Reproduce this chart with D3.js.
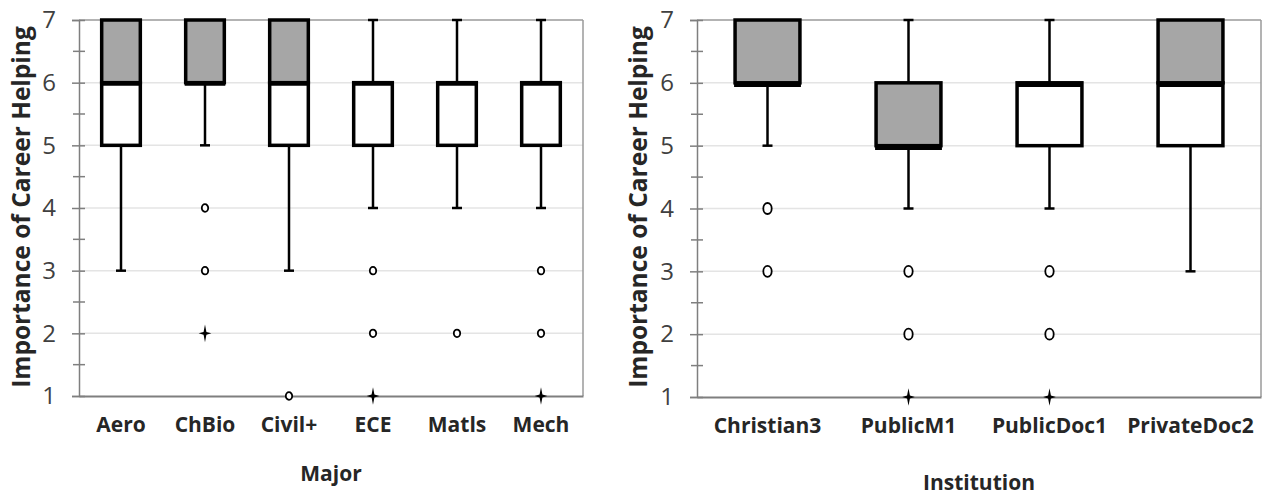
<!DOCTYPE html>
<html>
<head>
<meta charset="utf-8">
<script src="https://d3js.org/d3.v7.min.js"></script>
<style>
  body { margin: 0; background: #fff; }
  svg { display: block; }
  text { font-family: "Open Sans", "Noto Sans", sans-serif; }
</style>
</head>
<body>
<svg id="chart" width="1266" height="497"></svg>
<script>
// Major panel
const majors = ['Aero', 'ChBio', 'Civil+', 'ECE', 'Matls', 'Mech'];
const majorMin = [3, 5, 3, 4, 4, 4];
const majorQ1 = [5, 6, 5, 5, 5, 5];
const majorMed = [6, 6, 6, 6, 6, 6];
const majorQ3 = [7, 7, 7, 6, 6, 6];
const majorMax = [7, 7, 7, 7, 7, 7];
const majorOutliers = [[], [4, 3], [1], [3, 2], [2], [3, 2]];
const majorExtremes = [[], [2], [], [1], [], [1]];

// Institution panel
const institutions = ['Christian3', 'PublicM1', 'PublicDoc1', 'PrivateDoc2'];
const instMin = [5, 4, 4, 3];
const instQ1 = [6, 5, 5, 5];
const instMed = [6, 5, 6, 6];
const instQ3 = [7, 6, 6, 7];
const instMax = [7, 7, 7, 7];
const instOutliers = [[4, 3], [3, 2], [3, 2], []];
const instExtremes = [[], [1], [1], []];

const yTicks = [1, 2, 3, 4, 5, 6, 7];
const yMinor = [1.5, 2.5, 3.5, 4.5, 5.5, 6.5];
const yTitle = 'Importance of Career Helping';

const svg = d3.select('#chart');
const font = '"Open Sans", "Noto Sans", sans-serif';

// four-point star used for extreme values
const star4 = {
  draw(ctx, size) {
    const r = Math.sqrt(size) / 2;
    const w = r * 0.2;
    ctx.moveTo(0, -r * 1.25);
    ctx.lineTo(w, -w);
    ctx.lineTo(r * 0.9, 0);
    ctx.lineTo(w, w);
    ctx.lineTo(0, r * 1.25);
    ctx.lineTo(-w, w);
    ctx.lineTo(-r * 0.9, 0);
    ctx.lineTo(-w, -w);
    ctx.closePath();
  }
};

function drawPanel(opt) {
  const g = svg.append('g');
  const y = d3.scaleLinear().domain([1, 7]).range([opt.bottom, opt.top]);
  const x = d3.scaleBand().domain(opt.cats).range([opt.left, opt.right]);
  const boxW = x.bandwidth() * opt.boxFrac;

  const rows = opt.cats.map((c, i) => ({
    cat: c, min: opt.min[i], q1: opt.q1[i], med: opt.med[i], q3: opt.q3[i], max: opt.max[i],
    out: opt.out[i], ext: opt.ext[i]
  }));

  // gridlines
  g.selectAll('.grid').data([2, 3, 4, 5, 6]).enter().append('line')
    .attr('x1', opt.left).attr('x2', opt.right)
    .attr('y1', d => y(d)).attr('y2', d => y(d))
    .attr('stroke', '#e4e4e4').attr('stroke-width', 1.5);

  // plot border top / right
  g.append('line').attr('x1', opt.left).attr('x2', opt.right)
    .attr('y1', y(7)).attr('y2', y(7)).attr('stroke', '#9a9a9a').attr('stroke-width', 1.5);
  g.append('line').attr('x1', opt.right).attr('x2', opt.right)
    .attr('y1', y(7)).attr('y2', y(1)).attr('stroke', '#9a9a9a').attr('stroke-width', 1.5);

  // y axis
  const yAxis = g.append('g').attr('transform', `translate(${opt.left},0)`)
    .call(d3.axisLeft(y).tickValues(yTicks).tickFormat(d3.format('d')).tickSize(7).tickPadding(16));
  yAxis.attr('font-family', font);
  yAxis.select('.domain').attr('stroke', '#7f7f7f').attr('stroke-width', 1.5);
  yAxis.selectAll('.tick line').attr('stroke', '#7f7f7f').attr('stroke-width', 1.5).attr('x2', 6).attr('x1', -7);
  yAxis.selectAll('.tick text').attr('fill', '#404040').style('font-size', '24px');
  g.selectAll('.minor').data(yMinor).enter().append('line')
    .attr('x1', opt.left - 6).attr('x2', opt.left + 6)
    .attr('y1', d => y(d)).attr('y2', d => y(d))
    .attr('stroke', '#7f7f7f').attr('stroke-width', 1.5);

  // x axis
  const xAxis = g.append('g').attr('transform', `translate(0,${opt.bottom})`)
    .call(d3.axisBottom(x).tickSize(0).tickPadding(21));
  xAxis.attr('font-family', font);
  xAxis.select('.domain').attr('stroke', '#7f7f7f').attr('stroke-width', 2);
  xAxis.selectAll('.tick text').attr('fill', '#262626')
    .style('font-size', opt.catSize).style('font-weight', 700);

  // titles
  g.append('text')
    .attr('transform', `translate(${opt.yTitleX},${opt.yTitleY}) rotate(-90)`)
    .attr('text-anchor', 'middle').attr('dy', '0.35em')
    .style('font-size', '24.5px').style('font-weight', 700).attr('fill', '#262626')
    .text(yTitle);
  g.append('text')
    .attr('x', (opt.left + opt.right) / 2).attr('y', opt.xTitleY)
    .attr('text-anchor', 'middle')
    .style('font-size', '21px').style('font-weight', 700).attr('fill', '#262626')
    .text(opt.xTitle);

  const box = g.selectAll('.box').data(rows).enter().append('g')
    .attr('transform', d => `translate(${x(d.cat) + x.bandwidth() / 2},0)`);

  // whiskers
  box.filter(d => d.min < d.q1).append('line')
    .attr('y1', d => y(d.min)).attr('y2', d => y(d.q1))
    .attr('stroke', '#000').attr('stroke-width', 2.5);
  box.filter(d => d.max > d.q3).append('line')
    .attr('y1', d => y(d.max)).attr('y2', d => y(d.q3))
    .attr('stroke', '#000').attr('stroke-width', 2.5);
  box.filter(d => d.min < d.q1).append('line')
    .attr('x1', -5).attr('x2', 5).attr('y1', d => y(d.min)).attr('y2', d => y(d.min))
    .attr('stroke', '#000').attr('stroke-width', 2.5);
  box.filter(d => d.max > d.q3).append('line')
    .attr('x1', -5).attr('x2', 5).attr('y1', d => y(d.max)).attr('y2', d => y(d.max))
    .attr('stroke', '#000').attr('stroke-width', 2.5);

  // lower (white) and upper (gray) box segments
  box.filter(d => d.med > d.q1).append('rect')
    .attr('x', -boxW / 2).attr('width', boxW)
    .attr('y', d => y(d.med)).attr('height', d => y(d.q1) - y(d.med))
    .attr('fill', '#fff').attr('stroke', '#000').attr('stroke-width', 3.5);
  box.filter(d => d.q3 > d.med).append('rect')
    .attr('x', -boxW / 2).attr('width', boxW)
    .attr('y', d => y(d.q3)).attr('height', d => y(d.med) - y(d.q3))
    .attr('fill', '#a6a6a6').attr('stroke', '#000').attr('stroke-width', 3.5);
  // median
  box.append('line')
    .attr('x1', -boxW / 2 - 1).attr('x2', boxW / 2 + 1)
    .attr('y1', d => y(d.med) + opt.medOff).attr('y2', d => y(d.med) + opt.medOff)
    .attr('stroke', '#000').attr('stroke-width', opt.medW);

  // outliers
  box.selectAll('.out').data(d => d.out).enter().append('ellipse')
    .attr('cx', 0).attr('cy', d => y(d))
    .attr('rx', opt.orx).attr('ry', opt.ory)
    .attr('fill', '#fff').attr('stroke', '#000').attr('stroke-width', 1.8);
  box.selectAll('.ext').data(d => d.ext).enter().append('path')
    .attr('transform', d => `translate(0,${y(d)})`)
    .attr('d', d3.symbol().type(star4).size(200))
    .attr('fill', '#000');
}

drawPanel({
  cats: majors, min: majorMin, q1: majorQ1, med: majorMed, q3: majorQ3, max: majorMax,
  out: majorOutliers, ext: majorExtremes,
  left: 79, right: 583, top: 20, bottom: 396, boxFrac: 0.46,
  medW: 4, medOff: 1, orx: 3.2, ory: 3.8, catSize: '21px',
  yTitleX: 21, yTitleY: 207, xTitle: 'Major', xTitleY: 481
});

drawPanel({
  cats: institutions, min: instMin, q1: instQ1, med: instMed, q3: instQ3, max: instMax,
  out: instOutliers, ext: instExtremes,
  left: 697, right: 1261, top: 20, bottom: 397, boxFrac: 0.46,
  medW: 5.5, medOff: 1.5, orx: 4.2, ory: 5.5, catSize: '21px',
  yTitleX: 638, yTitleY: 207, xTitle: 'Institution', xTitleY: 490
});
</script>
</body>
</html>
